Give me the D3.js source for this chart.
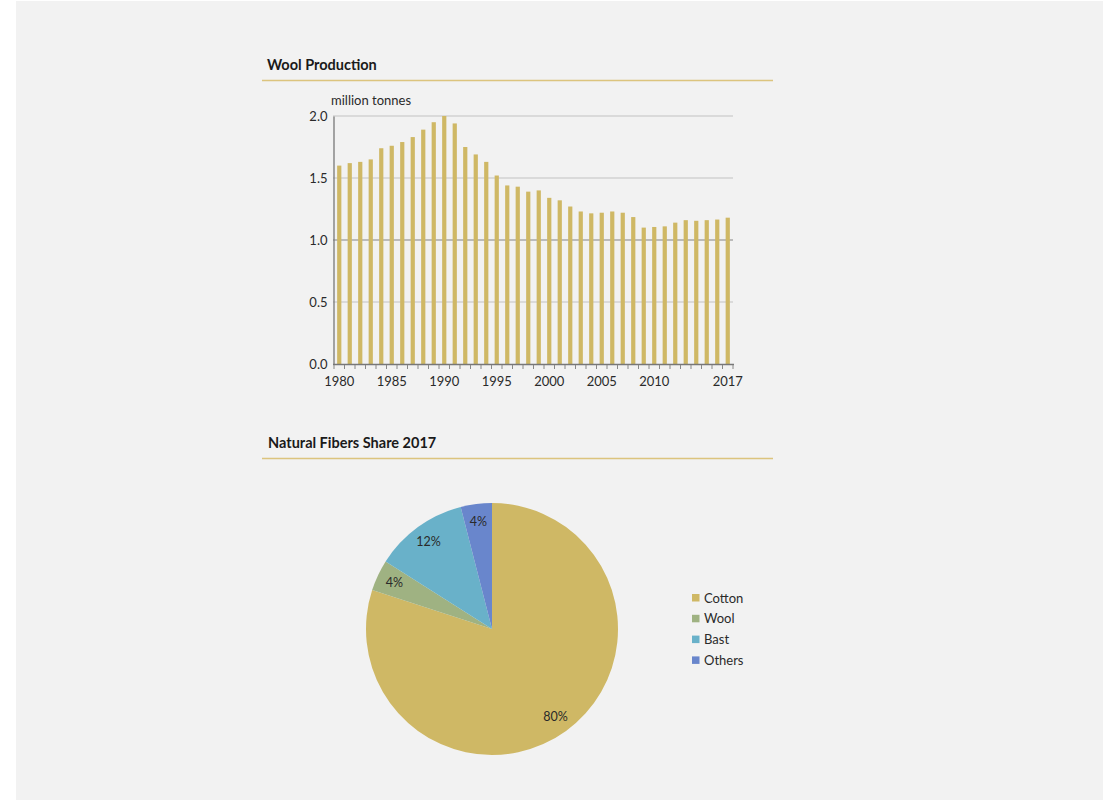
<!DOCTYPE html>
<html>
<head>
<meta charset="utf-8">
<script src="https://cdn.jsdelivr.net/npm/d3@7"></script>
<style>
  html, body { margin: 0; padding: 0; background: #ffffff; }
  svg { display: block; font-family: Lato, "Open Sans", sans-serif; }
</style>
</head>
<body>
<svg id="chart" width="1109" height="803"></svg>
<script>
// Wool production, million tonnes per year
const years = d3.range(1980, 2018);
const woolProduction = [
  1.60, 1.62, 1.63, 1.65, 1.74, 1.76, 1.79, 1.83, 1.89, 1.95,
  2.00, 1.94, 1.75, 1.69, 1.63, 1.52, 1.44, 1.43, 1.39, 1.40,
  1.34, 1.32, 1.27, 1.23, 1.215, 1.22, 1.23, 1.22, 1.185, 1.10,
  1.105, 1.11, 1.14, 1.16, 1.155, 1.16, 1.165, 1.18
];
const yTicks = [0, 0.5, 1.0, 1.5, 2.0];
const xTickLabels = [1980, 1985, 1990, 1995, 2000, 2005, 2010, 2017];

// Natural fibre shares in 2017 (%)
const fibers = ["Cotton", "Wool", "Bast", "Others"];
const fiberShares = [80, 4, 12, 4];
const fiberColors = ["#cfb865", "#9fb282", "#69b1c9", "#6986cc"];

const svg = d3.select("#chart");

// page panel
svg.append("rect").attr("x", 16).attr("y", 1).attr("width", 1087).attr("height", 799)
  .attr("fill", "#f2f2f2");

const gold = "#cfb865";
const ruleColor = "#dcc47e";
const textColor = "#2a2a2a";

// ---------- Wool Production ----------
svg.append("text").attr("x", 267).attr("y", 70)
  .attr("font-size", 14.5).attr("font-weight", 700).attr("fill", "#1a1a1a")
  .text("Wool Production");
svg.append("line").attr("x1", 262).attr("x2", 773).attr("y1", 80.5).attr("y2", 80.5)
  .attr("stroke", ruleColor).attr("stroke-width", 1.3);

const x = d3.scaleBand().domain(years).range([334, 733]).paddingInner(0.6).paddingOuter(0.3);
const y = d3.scaleLinear().domain([0, 2]).range([364, 116]);

const plot = svg.append("g");

// gridlines
plot.selectAll("line.grid").data(yTicks.filter(d => d > 0)).join("line")
  .attr("class", "grid")
  .attr("x1", 333).attr("x2", 733)
  .attr("y1", d => y(d)).attr("y2", d => y(d))
  .attr("stroke", d => d === 1.0 ? "#a8a8a8" : "#d2d2d2").attr("stroke-width", 1.5);

// bars
plot.selectAll("rect.bar").data(woolProduction).join("rect")
  .attr("class", "bar")
  .attr("x", (d, i) => x(years[i]))
  .attr("width", x.bandwidth())
  .attr("y", d => y(d))
  .attr("height", d => y(0) - y(d))
  .attr("fill", gold);

// y axis
const yAxis = plot.append("g").attr("transform", "translate(333.5,0)")
  .call(d3.axisLeft(y).tickValues(yTicks).tickFormat(d3.format(".1f")).tickSize(0).tickPadding(6));
yAxis.select(".domain").attr("stroke", "#777").attr("stroke-width", 1.3);
yAxis.selectAll("text").attr("font-size", 13).attr("fill", textColor)
  .attr("font-family", "Lato, 'Open Sans', sans-serif");

// x axis: a tick on every band edge, labels on selected years
const step = x.step();
const xg = plot.append("g");
xg.append("line").attr("x1", 333).attr("x2", 734).attr("y1", 364.5).attr("y2", 364.5)
  .attr("stroke", "#777").attr("stroke-width", 1.6);
xg.selectAll("line.tick").data(d3.range(years.length + 1)).join("line")
  .attr("class", "tick")
  .attr("x1", i => 334 + i * step).attr("x2", i => 334 + i * step)
  .attr("y1", 365).attr("y2", 369)
  .attr("stroke", "#888").attr("stroke-width", 1);
xg.selectAll("text").data(xTickLabels).join("text")
  .attr("x", d => x(d) + x.bandwidth() / 2)
  .attr("y", 386)
  .attr("text-anchor", "middle").attr("font-size", 13).attr("fill", textColor)
  .text(d => d);

svg.append("text").attr("x", 331).attr("y", 105)
  .attr("font-size", 13).attr("fill", textColor).text("million tonnes");

// ---------- Natural Fibers Share 2017 ----------
svg.append("text").attr("x", 268).attr("y", 448)
  .attr("font-size", 14.5).attr("font-weight", 700).attr("fill", "#1a1a1a")
  .text("Natural Fibers Share 2017");
svg.append("line").attr("x1", 262).attr("x2", 773).attr("y1", 458.5).attr("y2", 458.5)
  .attr("stroke", ruleColor).attr("stroke-width", 1.3);

const pieData = d3.pie().sort(null).value(d => d)(fiberShares);
const radius = 126;
const arc = d3.arc().innerRadius(0).outerRadius(radius);
const labelArc = d3.arc().innerRadius(108).outerRadius(108);

const pieG = svg.append("g").attr("transform", "translate(492,629)");
pieG.selectAll("path").data(pieData).join("path")
  .attr("d", arc)
  .attr("fill", (d, i) => fiberColors[i]);
pieG.selectAll("text").data(pieData).join("text")
  .attr("transform", d => `translate(${labelArc.centroid(d)})`)
  .attr("text-anchor", "middle").attr("dy", "0.35em")
  .attr("font-size", 12.5).attr("fill", textColor)
  .text(d => d.data + "%");

// legend
const legend = svg.append("g").attr("transform", "translate(692,598)");
const rows = legend.selectAll("g").data(fibers).join("g")
  .attr("transform", (d, i) => `translate(0,${i * 20.8})`);
rows.append("rect").attr("x", 0).attr("y", -4).attr("width", 7.5).attr("height", 7.5)
  .attr("fill", (d, i) => fiberColors[i]);
rows.append("text").attr("x", 12).attr("y", 0).attr("dy", "0.35em")
  .attr("font-size", 13).attr("fill", textColor).text(d => d);
</script>
</body>
</html>
